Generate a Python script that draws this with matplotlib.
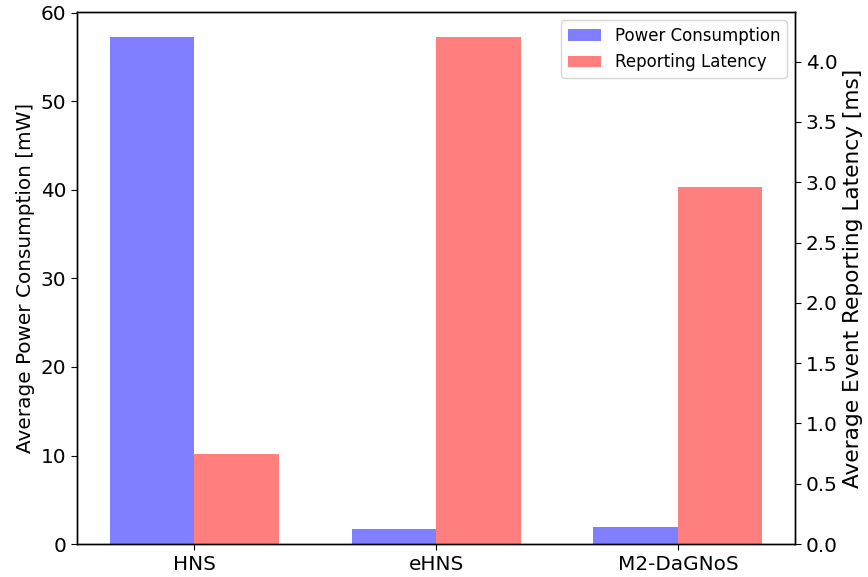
import matplotlib
matplotlib.use("Agg")
import matplotlib.pyplot as plt
import numpy as np

categories = ["HNS", "eHNS", "M2-DaGNoS"]
power_mw = [57.2, 1.7, 1.95]
latency_ms = [0.745, 4.2, 2.96]

plt.rcParams["font.size"] = 14.4
plt.rcParams["xtick.major.size"] = 4.2
plt.rcParams["ytick.major.size"] = 4.2
plt.rcParams["axes.linewidth"] = 1.0

fig, ax1 = plt.subplots(figsize=(8.68, 5.77), dpi=100)
ax2 = ax1.twinx()

x = np.arange(len(categories))
w = 0.35

b1 = ax1.bar(x - w / 2, power_mw, w, color="blue", alpha=0.5, label="Power Consumption")
b2 = ax2.bar(x + w / 2, latency_ms, w, color="red", alpha=0.5, label="Reporting Latency")

ax1.set_xticks(x)
ax1.set_xticklabels(categories)
ax1.set_ylabel("Average Power Consumption [mW]")
ax2.set_ylabel("Average Event Reporting Latency [ms]", fontsize=15.6)

ax1.legend([b1, b2], ["Power Consumption", "Reporting Latency"], loc="upper right", fontsize=12)

fig.subplots_adjust(left=0.089, right=0.916, top=0.979, bottom=0.057)
fig.savefig("out.png", dpi=100)
